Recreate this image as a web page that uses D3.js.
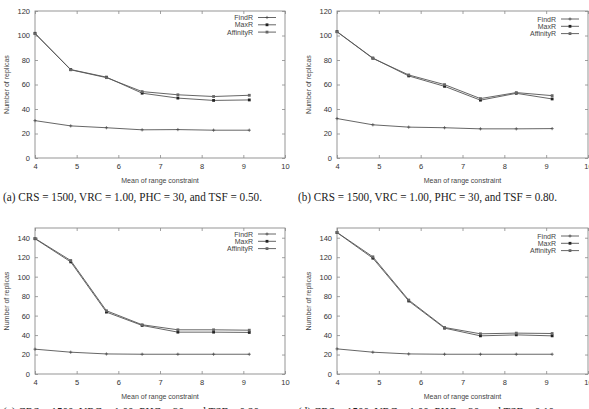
<!DOCTYPE html>
<html lang="en">
<head>
    <meta charset="UTF-8">
    <title>Number of replicas vs mean of range constraint</title>
    <script src="https://cdnjs.cloudflare.com/ajax/libs/d3/7.8.2/d3.min.js"></script>
    <style>
        body{
            margin: 0;
            background: #fff;
        }
        svg{
            display: block;
        }
    </style>
</head>
<body>
    <div class="container"></div>
    <script>
        // data
        let xValues = [4, 4.857, 5.714, 6.571, 7.429, 8.286, 9.143];
        let seriesNames = ['FindR', 'MaxR', 'AffinityR'];

        let findR_a = [30.5, 26.2, 24.7, 23.0, 23.2, 22.7, 22.7];
        let maxR_a = [101.8, 72.2, 66.0, 52.9, 48.9, 47.0, 47.4];
        let affinityR_a = [101.5, 72.0, 65.6, 54.2, 51.6, 50.2, 51.2];

        let findR_b = [32.2, 27.1, 25.2, 24.7, 23.8, 23.8, 24.0];
        let maxR_b = [103.2, 81.6, 67.0, 58.5, 47.2, 52.8, 48.2];
        let affinityR_b = [103.0, 81.3, 67.8, 59.9, 48.5, 53.4, 50.9];

        let findR_c = [25.5, 22.4, 20.6, 20.3, 20.3, 20.3, 20.3];
        let maxR_c = [139.0, 115.2, 63.6, 49.9, 43.0, 43.0, 42.7];
        let affinityR_c = [139.3, 116.6, 65.0, 50.6, 45.4, 45.4, 45.0];

        let findR_d = [25.8, 22.4, 20.6, 20.3, 20.3, 20.3, 20.3];
        let maxR_d = [145.3, 119.0, 75.0, 47.1, 39.2, 40.2, 39.2];
        let affinityR_d = [145.5, 120.4, 76.0, 47.8, 41.3, 42.0, 41.6];

        let xTicks = [4, 5, 6, 7, 8, 9, 10];
        let yTicksTop = [0, 20, 40, 60, 80, 100, 120];
        let yTicksBottom = [0, 20, 40, 60, 80, 100, 120, 140];

        let captions = [
            '(a) CRS = 1500, VRC = 1.00, PHC = 30, and TSF = 0.50.',
            '(b) CRS = 1500, VRC = 1.00, PHC = 30, and TSF = 0.80.',
            '(c) CRS = 1500, VRC = 1.00, PHC = 30, and TSF = 0.20.',
            '(d) CRS = 1500, VRC = 1.00, PHC = 30, and TSF = 0.10.'
        ];

        let width = 589;
        let height = 409;

        let svg = d3.select('.container').append('svg')
                    .attr('width', width)
                    .attr('height', height);

        const tickFont = '"Liberation Sans", Arial, sans-serif';
        const frameColor = '#8a8a8a';
        const lineColor = '#555';

        const drawPanel = (p) => {
            let g = svg.append('g');

            let xScale = d3.scaleLinear().domain([4, 10]).range([p.left, p.right]);
            let yScale = d3.scaleLinear().domain([0, p.ymax]).range([p.bottom, p.top]);

            // frame
            g.append('rect')
             .attr('x', p.left).attr('y', p.top)
             .attr('width', p.right - p.left).attr('height', p.bottom - p.top)
             .attr('fill', 'none').attr('stroke', frameColor).attr('stroke-width', 0.9);

            // axes, ticks pointing inside, mirrored like gnuplot
            let xAxis = d3.axisBottom(xScale).tickValues(xTicks).tickSize(-3).tickPadding(6).tickFormat(d3.format('d'));
            let gx = g.append('g').attr('transform', `translate(0,${p.bottom})`).call(xAxis);
            let xTop = d3.axisTop(xScale).tickValues(xTicks).tickSize(-3).tickFormat('');
            let gxt = g.append('g').attr('transform', `translate(0,${p.top})`).call(xTop);

            let yAxis = d3.axisLeft(yScale).tickValues(p.yTicks).tickSize(-3).tickPadding(5).tickFormat(d3.format('d'));
            let gy = g.append('g').attr('transform', `translate(${p.left},0)`).call(yAxis);
            let yRight = d3.axisRight(yScale).tickValues(p.yTicks).tickSize(-3).tickFormat('');
            let gyr = g.append('g').attr('transform', `translate(${p.right},0)`).call(yRight);

            [gx, gxt, gy, gyr].forEach(a => {
                a.select('.domain').remove();
                a.selectAll('.tick line').attr('stroke', frameColor).attr('stroke-width', 0.8);
                a.selectAll('.tick text')
                 .attr('fill', '#333')
                 .style('font-family', tickFont)
                 .style('font-size', '7.5px');
            });

            // axis titles
            g.append('text')
             .attr('x', (p.left + p.right) / 2).attr('y', p.bottom + 25)
             .attr('text-anchor', 'middle')
             .style('font-family', tickFont).style('font-size', '7px').attr('fill', '#444')
             .text('Mean of range constraint');

            g.append('text')
             .attr('transform', `translate(${p.left - 26},${(p.top + p.bottom) / 2}) rotate(-90)`)
             .attr('text-anchor', 'middle')
             .style('font-family', tickFont).style('font-size', '7px').attr('fill', '#444')
             .text('Number of replicas');

            // lines
            let line = d3.line()
                         .x((d, i) => xScale(xValues[i]))
                         .y(d => yScale(d));

            p.series.forEach((s, k) => {
                g.append('path')
                 .datum(s)
                 .attr('d', line)
                 .attr('fill', 'none')
                 .attr('stroke', lineColor)
                 .attr('stroke-width', 0.9);
                drawMarkers(g, s.map((v, i) => [xScale(xValues[i]), yScale(v)]), k);
            });

            // legend
            let legend = g.append('g');
            seriesNames.forEach((name, k) => {
                let y = p.legendTop + k * 7.3;
                legend.append('text')
                      .attr('x', p.right - 32).attr('y', y + 2.5)
                      .attr('text-anchor', 'end')
                      .style('font-family', tickFont).style('font-size', '7px').attr('fill', '#444')
                      .text(name);
                legend.append('line')
                      .attr('x1', p.right - 27).attr('x2', p.right - 9)
                      .attr('y1', y).attr('y2', y)
                      .attr('stroke', lineColor).attr('stroke-width', 0.9);
                drawMarkers(legend, [[p.right - 18, y]], k);
            });

            // caption
            svg.append('text')
               .attr('x', p.capX).attr('y', p.capY)
               .attr('textLength', 259).attr('lengthAdjust', 'spacingAndGlyphs')
               .style('font-family', '"Liberation Serif", "DejaVu Serif", serif')
               .style('font-size', '11.5px').attr('fill', '#222')
               .text(p.caption);
        };

        const drawMarkers = (g, pts, k) => {
            pts.forEach(([x, y]) => {
                if (k === 0) {
                    g.append('path')
                     .attr('d', `M${x - 1.6},${y}H${x + 1.6}M${x},${y - 1.6}V${y + 1.6}`)
                     .attr('stroke', '#444').attr('stroke-width', 0.7);
                } else {
                    g.append('rect')
                     .attr('x', x - 1.4).attr('y', y - 1.4)
                     .attr('width', 2.8).attr('height', 2.8)
                     .attr('fill', k === 1 ? '#222' : '#666');
                }
            });
        };

        let panels = [
            {left: 35, right: 285, top: 11, bottom: 158, ymax: 120, yTicks: yTicksTop,
             series: [findR_a, maxR_a, affinityR_a], legendTop: 17.5, caption: captions[0], capX: 3, capY: 201},
            {left: 337, right: 588, top: 11, bottom: 158, ymax: 120, yTicks: yTicksTop,
             series: [findR_b, maxR_b, affinityR_b], legendTop: 19, caption: captions[1], capX: 298, capY: 201},
            {left: 35, right: 285, top: 228, bottom: 374, ymax: 150, yTicks: yTicksBottom,
             series: [findR_c, maxR_c, affinityR_c], legendTop: 234, caption: captions[2], capX: 3, capY: 416},
            {left: 337, right: 588, top: 228, bottom: 374, ymax: 150, yTicks: yTicksBottom,
             series: [findR_d, maxR_d, affinityR_d], legendTop: 236, caption: captions[3], capX: 298, capY: 416}
        ];

        panels.forEach(drawPanel);
    </script>
</body>
</html>
